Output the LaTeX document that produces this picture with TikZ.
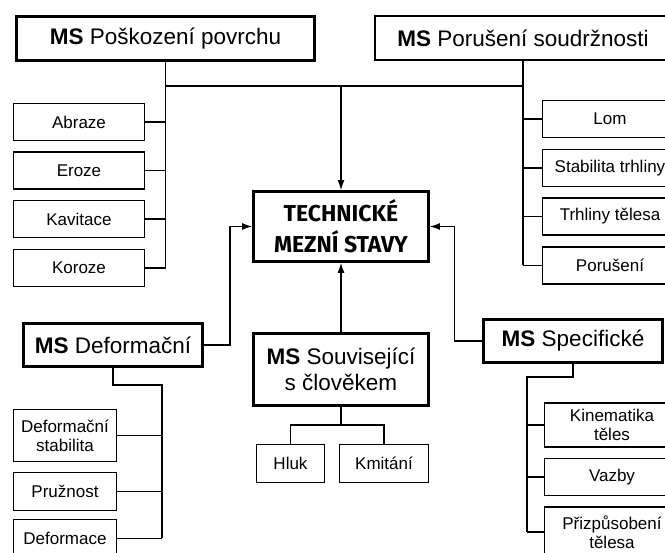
\documentclass[tikz,border=0pt]{standalone}
\usepackage{fontspec}
\setmainfont{Liberation Sans}
\newfontfamily\stavfont{Fira Sans}
\usetikzlibrary{arrows.meta}

\tikzset{
  msbox/.style={draw, line width=2.8pt, inner sep=0pt, align=center, font=\fontsize{22.5}{26}\selectfont},
  itembox/.style={draw, line width=1.2pt, inner sep=0pt, align=center, font=\fontsize{17}{19}\selectfont},
  spoj/.style={line width=1.2pt},
  sipka/.style={line width=1.2pt, -{Latex[length=10pt,width=7pt]}}
}

\begin{document}
\begin{tikzpicture}[x=1pt, y=-1pt]
\useasboundingbox (0,0) rectangle (665,553);
\node[msbox, minimum width=298pt, minimum height=44pt] (pov) at (165.5,38.5) {\textbf{MS} Poškození povrchu};
\node[msbox, minimum width=296pt, minimum height=44pt] (sou) at (523,38) {\textbf{MS} Porušení soudržnosti};
\node[msbox, font={\fontsize{23}{31}\selectfont\stavfont\bfseries}, minimum width=175pt, minimum height=70pt] (tms) at (341,226.5) {TECHNICKÉ\\MEZNÍ STAVY};
\node[msbox, minimum width=179pt, minimum height=43pt] (def) at (113,345) {\textbf{MS} Deformační};
\node[msbox, minimum width=175pt, minimum height=72pt] (clo) at (341,369.5) {\textbf{MS} Související\\s člověkem};
\node[msbox, minimum width=179pt, minimum height=43pt] (spe) at (573,341) {\textbf{MS} Specifické};

\foreach \n/\y/\t in {abr/122/Abraze, ero/170.5/Eroze, kav/219/Kavitace, kor/268/Koroze}
  \node[itembox, minimum width=131pt, minimum height=37pt] (\n) at (79,\y) {\t};
\foreach \n/\y/\t in {lom/119/Lom, stt/168/Stabilita trhliny, trt/216.5/Trhliny tělesa, por/265.5/Porušení}
  \node[itembox, minimum width=135pt, minimum height=37pt] (\n) at (610,\y) {\t};
\node[itembox, minimum width=103pt, minimum height=52pt] (dst) at (65,435.5) {Deformační\\stabilita};
\node[itembox, minimum width=103pt, minimum height=38pt] (pru) at (65,491.5) {Pružnost};
\node[itembox, minimum width=103pt, minimum height=38pt] (dfm) at (65,538.5) {Deformace};
\node[itembox, minimum width=68pt, minimum height=38pt] (hluk) at (290.5,463.5) {Hluk};
\node[itembox, minimum width=89pt, minimum height=38pt] (kmi) at (384,463.5) {Kmitání};
\node[itembox, minimum width=135pt, minimum height=44pt] (kin) at (612,425) {Kinematika\\těles};
\node[itembox, minimum width=135pt, minimum height=37pt] (vaz) at (612,477) {Vazby};
\node[itembox, minimum width=135pt, minimum height=50pt] (pri) at (612,532) {Přizpůsobení\\tělesa};

\coordinate (roz) at (341,86);
\draw[spoj] (pov.south) |- (roz) -| (sou.south);
\draw[sipka] (roz) -- (tms.north);
\draw[spoj] (pov.south) -- (pov.south |- kor.east);
\foreach \n in {abr,ero,kav,kor}
  \draw[spoj] (\n.east) -- (pov.south |- \n.east);
\draw[spoj] (sou.south) -- (sou.south |- por.west);
\foreach \n in {lom,stt,trt,por}
  \draw[spoj] (\n.west) -- (sou.south |- \n.west);

\coordinate (dv) at (162,385);
\draw[spoj] (def.south) |- (dv) -- (dv |- dfm.east);
\foreach \n in {dst,pru,dfm}
  \draw[spoj] (\n.east) -- (dv |- \n.east);
\draw[sipka] (def.east) -- ++(26,0) |- (tms.west);

\coordinate (sv) at (527,377);
\draw[spoj] (spe.south) |- (sv) -- (sv |- pri.west);
\foreach \n in {kin,vaz,pri}
  \draw[spoj] (\n.west) -- (sv |- \n.west);
\draw[sipka] (spe.west) -- ++(-28,0) |- (tms.east);

\coordinate (cv) at (341,425);
\draw[sipka] (clo.north) -- (tms.south);
\draw[spoj] (clo.south) -- (cv);
\draw[spoj] (hluk.north) |- (cv) -| (kmi.north);
\end{tikzpicture}
\end{document}
